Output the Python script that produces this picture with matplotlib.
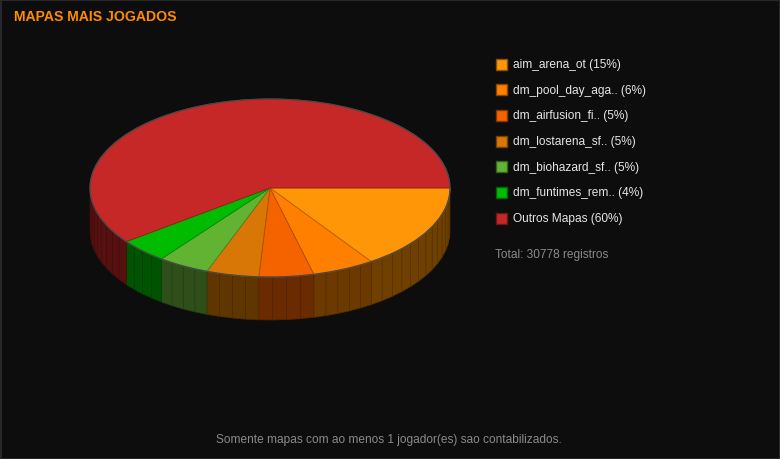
import numpy as np
import matplotlib
matplotlib.use("Agg")
import matplotlib.pyplot as plt
from matplotlib.patches import Polygon, Rectangle, Ellipse

plt.rcParams['font.family'] = ['Liberation Sans', 'DejaVu Sans']

# ---- data ----
labels = ["aim_arena_ot", "dm_pool_day_aga..", "dm_airfusion_fi..", "dm_lostarena_sf..",
          "dm_biohazard_sf..", "dm_funtimes_rem..", "Outros Mapas"]
counts = [4770, 1720, 1510, 1450, 1420, 1350, 18558]
top_colors = ["#FF9608", "#FF8000", "#F46300", "#D97706", "#63B333", "#00BB00", "#C62828"]
side_colors = ["#6F4000", "#6C3900", "#6A2B00", "#5F3500", "#2F4F1A", "#005300", "#561010"]
title = "MAPAS MAIS JOGADOS"
footer = "Somente mapas com ao menos 1 jogador(es) sao contabilizados."
total = sum(counts)

BG = "#0D0D0D"
W, H = 780, 460
fig = plt.figure(figsize=(W / 100, H / 100), dpi=100, facecolor=BG)
ax = fig.add_axes([0, 0, 1, 1])
ax.set_xlim(0, W)
ax.set_ylim(H, 0)
ax.axis("off")
ax.set_facecolor(BG)

# border
ax.add_patch(Rectangle((0.5, 0.5), W - 1, H - 1, fill=False, edgecolor="#2E2E2E", lw=1.2))

cx, cy, rx, ry, depth = 270, 189, 180, 89, 43

fr = np.array(counts, dtype=float) / total
ends = np.cumsum(fr) * 360.0
starts = np.concatenate([[0.0], ends[:-1]])

def pt(t, dz=0.0):
    r = np.radians(t)
    return cx + rx * np.cos(r), cy + ry * np.sin(r) + dz

def darker(hexc, f):
    c = np.array(matplotlib.colors.to_rgb(hexc)) * f
    return tuple(c)

# side facets (visible front half: 0..180)
for s, e, sc in zip(starts, ends, side_colors):
    a, b = max(s, 0), min(e, 180)
    if b <= a:
        continue
    n = max(1, int(np.ceil((b - a) / 4.5)))
    ts = np.linspace(a, b, n + 1)
    for t0, t1 in zip(ts[:-1], ts[1:]):
        p0, p1 = pt(t0), pt(t1)
        q1, q0 = pt(t1, depth), pt(t0, depth)
        ax.add_patch(Polygon([p0, p1, q1, q0], closed=True, facecolor=sc,
                             edgecolor=darker(sc, 0.82), lw=0.5, zorder=2))

# top wedges
for s, e, tc in zip(starts, ends, top_colors):
    ts = np.linspace(s, e, max(3, int((e - s) / 1.0)))
    verts = [(cx, cy)] + [pt(t) for t in ts]
    ax.add_patch(Polygon(verts, closed=True, facecolor=tc,
                         edgecolor=darker(tc, 0.75), lw=0.6, zorder=3))

ax.add_patch(Ellipse((cx, cy), 2 * rx, 2 * ry, fill=False, edgecolor="#4A4A4A", lw=0.9, zorder=4))

# title
ax.text(14, 17, title, color="#FF8C00", fontsize=10.1, fontweight="bold", va="center", ha="left")

# legend
y0, dy = 65, 25.7
for i, (lab, c, tc) in enumerate(zip(labels, counts, top_colors)):
    y = y0 + i * dy
    ax.add_patch(Rectangle((495.5, y - 5.5), 11, 11, facecolor=tc,
                           edgecolor=darker(tc, 0.55), lw=1))
    pct = round(100.0 * c / total)
    ax.text(513, y, f"{lab} ({pct}%)", color="#E6E6E6", fontsize=8.6, va="center", ha="left")

ax.text(495, 255, f"Total: {total} registros", color="#8A8A8A", fontsize=8.6, va="center", ha="left")
ax.text(389, 440, footer, color="#8A8A8A", fontsize=8.6, va="center", ha="center")

fig.savefig("out.png", dpi=100, facecolor=BG)
